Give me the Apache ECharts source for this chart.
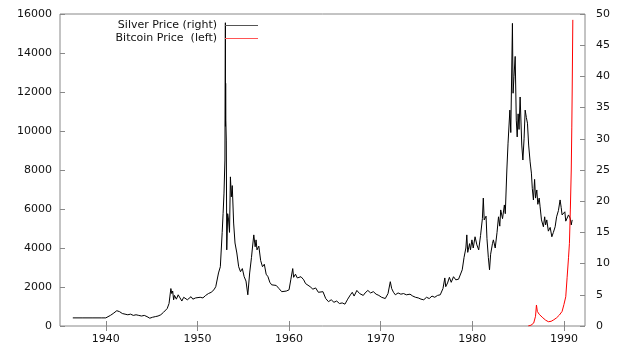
<!DOCTYPE html>
<html>
<head>
<meta charset="utf-8">
<script src="https://cdn.jsdelivr.net/npm/echarts@6/dist/echarts.min.js"></script>
<style>
html, body { margin : 0; padding : 0; background : #fff; }
#main { width : 640px; height : 351px; }
</style>
</head>
<body>
<div id="main"></div>
<script>
// x tick labels
var yearTicks = [1940, 1950, 1960, 1970, 1980, 1990];

// silver price, right axis : [year, price]
var silverData = [
	[1936.4, 1.3], [1937.5, 1.3], [1938.5, 1.3], [1939.5, 1.3], [1940.0, 1.3], [1940.2, 1.5],
	[1940.5, 1.7], [1940.8, 2.0], [1941.0, 2.2], [1941.2, 2.45], [1941.5, 2.3], [1941.8, 2.0],
	[1942.1, 1.9], [1942.4, 1.8], [1942.7, 1.9], [1943.0, 1.7], [1943.3, 1.8], [1943.6, 1.7],
	[1943.9, 1.6], [1944.2, 1.7], [1944.5, 1.5], [1944.8, 1.25], [1945.1, 1.4], [1945.4, 1.5],
	[1945.7, 1.6], [1946.0, 1.8], [1946.3, 2.2], [1946.5, 2.5], [1946.7, 2.8], [1946.9, 3.6],
	[1947.0, 4.8], [1947.1, 6.0], [1947.2, 5.2], [1947.3, 5.6], [1947.4, 4.2], [1947.5, 4.9],
	[1947.7, 4.3], [1947.9, 5.0], [1948.1, 4.5], [1948.3, 4.0], [1948.5, 4.6], [1948.7, 4.8],
	[1948.9, 4.2], [1949.1, 4.4], [1949.3, 4.7], [1949.5, 4.3], [1949.8, 4.5], [1950.0, 4.8],
	[1950.3, 4.6], [1950.6, 4.5], [1950.9, 4.9], [1951.2, 5.2], [1951.5, 5.4], [1951.8, 5.8],
	[1952.0, 6.3], [1952.3, 8.5], [1952.5, 9.5], [1952.7, 15.0], [1952.8, 18.0], [1952.9, 21.3],
	[1953.0, 26.6], [1953.05, 48.6], [1953.06, 32.0], [1953.08, 38.9], [1953.1, 33.0], [1953.15, 29.8],
	[1953.2, 12.2], [1953.3, 18.0], [1953.4, 17.0], [1953.5, 15.0], [1953.6, 23.9], [1953.7, 20.7],
	[1953.8, 22.5], [1953.95, 16.5], [1954.1, 13.3], [1954.3, 11.7], [1954.5, 9.5], [1954.7, 8.7],
	[1954.9, 9.2], [1955.1, 7.9], [1955.3, 7.2], [1955.5, 5.0], [1955.7, 8.5], [1955.9, 11.0],
	[1956.0, 12.5], [1956.15, 14.6], [1956.3, 12.7], [1956.4, 13.8], [1956.5, 12.2], [1956.7, 12.8],
	[1956.9, 10.5], [1957.1, 9.5], [1957.3, 9.9], [1957.5, 8.3], [1957.7, 7.9], [1957.9, 7.0],
	[1958.1, 6.6], [1958.3, 6.3], [1958.6, 6.5], [1958.9, 6.0], [1959.2, 5.5], [1959.4, 5.2],
	[1959.7, 5.6], [1960.0, 5.8], [1960.2, 7.5], [1960.4, 9.2], [1960.5, 7.8], [1960.7, 8.3],
	[1960.9, 7.7], [1961.1, 7.5], [1961.3, 7.9], [1961.6, 7.4], [1961.8, 6.8], [1962.0, 6.6],
	[1962.3, 6.3], [1962.6, 5.9], [1962.9, 6.1], [1963.2, 5.4], [1963.4, 5.2], [1963.7, 5.5],
	[1964.0, 4.4], [1964.3, 3.9], [1964.6, 4.2], [1964.9, 3.8], [1965.2, 4.0], [1965.5, 3.6],
	[1965.8, 3.7], [1966.1, 3.5], [1966.4, 4.3], [1966.7, 5.0], [1966.9, 5.4], [1967.1, 4.8],
	[1967.4, 5.7], [1967.7, 5.2], [1967.9, 5.5], [1968.1, 4.9], [1968.3, 5.3], [1968.6, 5.7],
	[1968.9, 5.3], [1969.2, 5.5], [1969.5, 5.1], [1969.8, 4.9], [1970.1, 4.6], [1970.5, 4.4],
	[1970.8, 5.2], [1971.05, 7.1], [1971.2, 6.0], [1971.4, 5.4], [1971.6, 5.0], [1971.9, 5.3],
	[1972.2, 5.1], [1972.5, 5.2], [1972.8, 5.0], [1973.2, 5.1], [1973.5, 4.8], [1973.8, 4.6],
	[1974.1, 4.5], [1974.4, 4.3], [1974.7, 4.2], [1975.0, 4.6], [1975.3, 4.4], [1975.6, 4.8],
	[1975.9, 4.6], [1976.2, 4.9], [1976.5, 5.0], [1976.8, 6.0], [1977.0, 7.7], [1977.1, 6.3],
	[1977.3, 6.9], [1977.5, 7.8], [1977.7, 7.0], [1977.95, 7.9], [1978.2, 7.4], [1978.5, 7.5],
	[1978.7, 7.4], [1978.9, 9.0], [1979.1, 11.0], [1979.3, 12.5], [1979.4, 14.6], [1979.5, 11.8],
	[1979.7, 13.2], [1979.8, 12.2], [1979.96, 13.8], [1980.1, 12.5], [1980.3, 14.3], [1980.5, 13.0],
	[1980.7, 12.2], [1980.9, 14.5], [1981.1, 17.2], [1981.2, 20.5], [1981.3, 17.0], [1981.5, 17.6],
	[1981.6, 14.0], [1981.75, 11.0], [1981.88, 9.0], [1982.0, 11.5], [1982.2, 13.2], [1982.3, 13.8],
	[1982.5, 12.5], [1982.7, 15.0], [1982.86, 17.5], [1983.0, 16.0], [1983.1, 18.6], [1983.3, 17.2],
	[1983.5, 19.4], [1983.6, 18.0], [1983.77, 25.0], [1983.9, 29.3], [1984.1, 34.6], [1984.2, 31.0],
	[1984.38, 48.5], [1984.45, 37.3], [1984.55, 40.0], [1984.68, 43.2], [1984.8, 33.0], [1984.9, 30.3],
	[1985.0, 34.0], [1985.1, 31.5], [1985.22, 36.7], [1985.4, 29.0], [1985.52, 26.6], [1985.65, 30.0],
	[1985.77, 34.6], [1985.9, 33.4], [1986.02, 32.5], [1986.15, 29.0], [1986.31, 26.3], [1986.45, 24.5],
	[1986.55, 22.0], [1986.67, 20.2], [1986.8, 23.5], [1986.9, 20.5], [1987.04, 21.8], [1987.15, 19.5],
	[1987.3, 20.5], [1987.4, 19.1], [1987.55, 17.0], [1987.7, 16.8], [1987.76, 15.9], [1987.9, 17.5],
	[1988.0, 16.2], [1988.13, 17.0], [1988.3, 15.2], [1988.5, 15.8], [1988.68, 14.3], [1988.85, 15.0],
	[1989.04, 15.9], [1989.2, 17.5], [1989.4, 18.5], [1989.58, 20.2], [1989.7, 19.0], [1989.8, 17.8],
	[1989.94, 17.5], [1990.1, 18.3], [1990.2, 16.8], [1990.31, 16.5], [1990.5, 17.8], [1990.67, 17.3],
	[1990.8, 16.2], [1990.9, 17.0]
];

// bitcoin price, left axis : [year, price]
var bitcoinData = [
	[1986.1, 0], [1986.4, 40], [1986.7, 150], [1986.9, 500], [1987.0, 1077], [1987.1, 750],
	[1987.3, 600], [1987.5, 650], [1987.7, 420], [1988.0, 300], [1988.3, 220], [1988.6, 240],
	[1988.9, 320], [1989.2, 420], [1989.5, 560], [1989.8, 750], [1990.0, 1100], [1990.2, 1500],
	[1990.35, 2500], [1990.5, 3500], [1990.6, 4240], [1990.7, 5950], [1990.8, 8000], [1990.86, 10200],
	[1990.9, 12000], [1990.97, 15700]
];

var fontName = 'DejaVu Sans';
var borderColor = '#888888';
var silverColor = '#000000';
var bitcoinColor = '#ff0000';

// plain number, no thousands separator
function plainLabel(v) {
	return '' + v;
}

var chart = echarts.init(document.getElementById('main'));
var option = {
	animation : false,
	backgroundColor : '#ffffff',
	textStyle : {
		fontFamily : fontName
	},
	grid : {
		left : 60,
		right : 55,
		top : 14,
		bottom : 25,
		show : true,
		borderColor : borderColor,
		borderWidth : 1
	},
	legend : {
		orient : 'vertical',
		align : 'right',
		right : 382,
		top : 19,
		padding : 0,
		itemWidth : 33,
		itemHeight : 1,
		itemGap : 0,
		icon : 'rect',
		textStyle : {
			fontFamily : fontName,
			fontSize : 11,
			color : '#111',
			lineHeight : 13,
			padding : [0, 3, 0, 0]
		},
		data : [
			{ name : 'Silver Price (right)', itemStyle : { color : '#555555' } },
			{ name : 'Bitcoin Price  (left)', itemStyle : { color : '#ff5555' } }
		]
	},
	xAxis : [
		{
			type : 'value',
			min : 1935,
			max : 1992.3,
			position : 'bottom',
			axisLine : { show : false },
			splitLine : { show : false },
			axisTick : {
				inside : true,
				length : 5,
				customValues : yearTicks,
				lineStyle : { color : borderColor }
			},
			axisLabel : {
				customValues : yearTicks,
				formatter : plainLabel,
				margin : 8,
				fontSize : 11,
				color : '#111',
				fontFamily : fontName
			}
		}, {
			type : 'value',
			min : 1935,
			max : 1992.3,
			position : 'top',
			axisLine : { show : false },
			splitLine : { show : false },
			axisTick : {
				inside : true,
				length : 5,
				customValues : yearTicks,
				lineStyle : { color : borderColor }
			},
			axisLabel : { show : false }
		}
	],
	yAxis : [
		{
			type : 'value',
			min : 0,
			max : 16000,
			interval : 2000,
			position : 'left',
			axisLine : { show : false },
			splitLine : { show : false },
			axisTick : {
				show : true,
				inside : true,
				length : 5,
				lineStyle : { color : borderColor }
			},
			axisLabel : {
				formatter : plainLabel,
				margin : 8,
				fontSize : 11,
				color : '#111',
				fontFamily : fontName
			}
		}, {
			type : 'value',
			min : 0,
			max : 50,
			interval : 5,
			position : 'right',
			axisLine : { show : false },
			splitLine : { show : false },
			axisTick : {
				show : true,
				inside : true,
				length : 5,
				lineStyle : { color : borderColor }
			},
			axisLabel : {
				formatter : plainLabel,
				margin : 11,
				fontSize : 11,
				color : '#111',
				fontFamily : fontName
			}
		}
	],
	series : [
		{
			name : 'Silver Price (right)',
			type : 'line',
			xAxisIndex : 0,
			yAxisIndex : 1,
			showSymbol : false,
			symbol : 'none',
			color : silverColor,
			lineStyle : { color : silverColor, width : 1 },
			data : silverData
		}, {
			name : 'Bitcoin Price  (left)',
			type : 'line',
			xAxisIndex : 0,
			yAxisIndex : 0,
			showSymbol : false,
			symbol : 'none',
			color : bitcoinColor,
			lineStyle : { color : bitcoinColor, width : 1 },
			data : bitcoinData
		}
	]
};
chart.setOption(option);
</script>
</body>
</html>
